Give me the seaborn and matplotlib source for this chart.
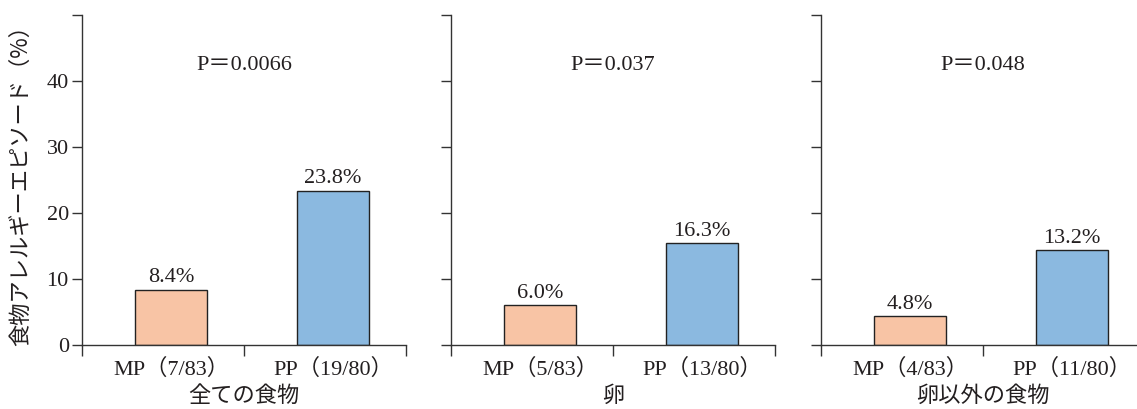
import matplotlib
matplotlib.use('Agg')
import matplotlib.pyplot as plt
import seaborn as sns
import pandas as pd

# ---- data ----
panel_titles = ['全ての食物', '卵', '卵以外の食物']
groups = ['MP', 'PP']
group_counts = [['（7/83）', '（19/80）'],
                ['（5/83）', '（13/80）'],
                ['（4/83）', '（11/80）']]
bar_heights = [[8.4, 23.4], [6.0, 15.5], [4.4, 14.4]]
pct_labels = [['8.4%', '23.8%'], ['6.0%', '16.3%'], ['4.8%', '13.2%']]
p_values = ['P＝0.0066', 'P＝0.037', 'P＝0.048']
ylabel = '食物アレルギーエピソード（%）'
yticks = [0, 10, 20, 30, 40, 50]
ytick_labels = ['0', '10', '20', '30', '40', '']
colors = ['#F8C4A5', '#8BB9E0']

sns.set_style('ticks')
plt.rcParams['font.family'] = ['Liberation Serif', 'Noto Sans CJK JP']
TXT = '#231f20'
SERIF = ['Liberation Serif', 'Noto Sans CJK JP']
SANS = ['Noto Sans CJK JP', 'DejaVu Sans']
FS = 16

W, H = 1137, 409
fig = plt.figure(figsize=(W / 100, H / 100), dpi=100)
lefts = [82, 451, 821]
axw = 324
bottom_px, top_px = 345, 15

for i in range(3):
    ax = fig.add_axes([lefts[i] / W, 1 - bottom_px / H, axw / W, (bottom_px - top_px) / H])
    labels = [g + c for g, c in zip(groups, group_counts[i])]
    df = pd.DataFrame({'label': labels, 'value': bar_heights[i]})
    sns.barplot(data=df, x='label', y='value', hue='label', palette=colors,
                width=0.44, edgecolor='#222222', linewidth=1.0, saturation=1,
                errorbar=None, legend=False, ax=ax)
    for cont, lab in zip(ax.containers, pct_labels[i]):
        ax.bar_label(cont, labels=[lab], padding=1.5, fontsize=FS, color=TXT,
                     fontfamily=SERIF)
    ax.set_xlim(-0.55, 1.45)
    ax.set_ylim(0, 50)
    ax.set_yticks(yticks)
    if i == 0:
        ax.set_yticklabels(ytick_labels)
        ax.set_ylabel(ylabel, fontsize=16, color=TXT, fontfamily=SANS)
        ax.yaxis.set_label_coords(-0.155, 0.5)
    else:
        ax.set_yticklabels([])
        ax.set_ylabel('')
    ax.set_xticks([0, 1])
    ax.set_xticklabels(labels)
    ax.set_xticks([-0.55, 0.45, 1.45], minor=True)
    ax.tick_params(axis='x', which='major', length=0, pad=10, labelsize=FS, labelcolor=TXT)
    ax.tick_params(axis='x', which='minor', length=8, width=1.0, color='#333333', direction='out')
    ax.tick_params(axis='y', which='major', length=7, width=1.0, color='#333333',
                   direction='out', pad=2.5, labelsize=FS, labelcolor=TXT)
    ax.set_xlabel(panel_titles[i], fontsize=16, color=TXT, fontfamily=SANS, labelpad=3)
    for s in ['top', 'right']:
        ax.spines[s].set_visible(False)
    for s in ['left', 'bottom']:
        ax.spines[s].set_color('#333333')
        ax.spines[s].set_linewidth(1.0)
    ax.text(0.45, 42.4, p_values[i], ha='center', va='center', fontsize=FS, color=TXT,
            fontfamily=SERIF)

fig.savefig('out.png', dpi=100)
